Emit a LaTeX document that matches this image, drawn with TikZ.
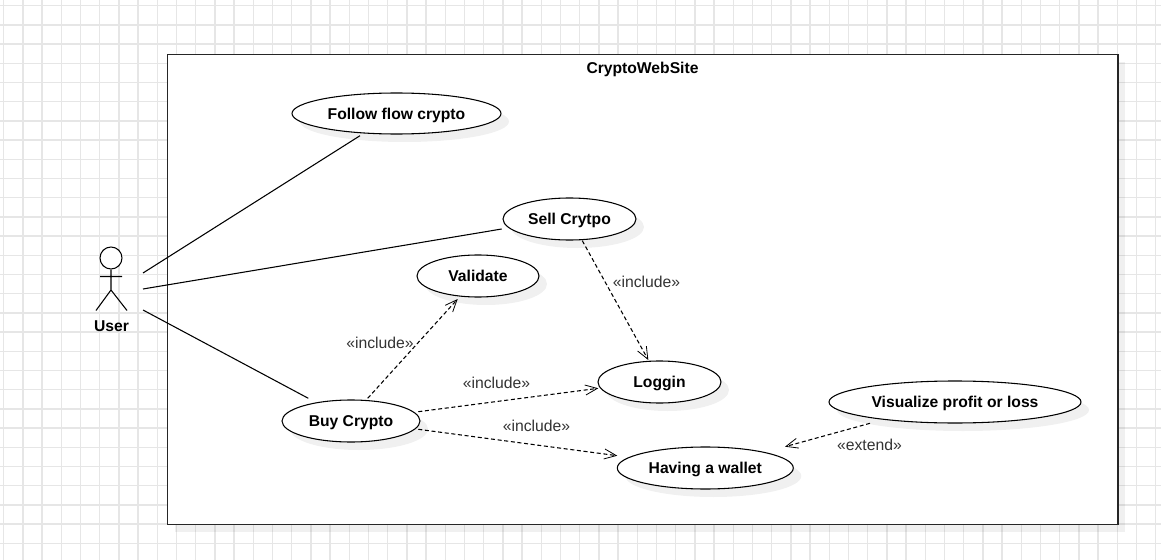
\documentclass[tikz,border=0pt]{standalone}
\usepackage{fontspec}
\setmainfont{Liberation Sans}
\usetikzlibrary{arrows.meta,shapes.geometric}
\definecolor{gridc}{HTML}{E6E6E6}
\newcommand{\uctext}[1]{\raisebox{-4.4pt}[1ex][1ex]{#1}}
\tikzset{
  x=0.75pt,y=-0.75pt,
  usecase/.style={ellipse,draw=black,fill=white,line width=0.8pt,inner sep=0pt,minimum width=#1*0.75pt,font=\fontsize{11.75}{14}\selectfont\bfseries,text=black},
  shadowed/.style={fill=black,fill opacity=0.06,draw=none},
  assoc/.style={draw=black,line width=0.8pt},
  dep/.style={draw=black,line width=0.8pt,dash pattern=on 3pt off 2pt,-{Straight Barb[length=9pt,width=7.5pt,line width=0.6pt]}},
  stereo/.style={font=\fontsize{11.8}{14}\selectfont,text=black!80,inner sep=0pt},
  boldlbl/.style={font=\fontsize{11.75}{14}\selectfont\bfseries,inner sep=0pt}
}
\begin{document}
\begin{tikzpicture}
\useasboundingbox (0,0) rectangle (1161,560);
\fill[white] (0,0) rectangle (1161,560);
% grid
\foreach \k in {0,...,60}{\draw[gridc,line width=1.05pt] ({3.7+19.2*\k},0) -- ({3.7+19.2*\k},560);}
\foreach \k in {0,...,29}{\draw[gridc,line width=1.05pt] (0,{5.7+19.2*\k}) -- (1161,{5.7+19.2*\k});}
% system
\fill[shadowed] (174.5,62) rectangle (1125,532);
\node[draw=black!85,fill=white,line width=1.1pt,inner sep=0pt,minimum width=713pt,minimum height=352.5pt,anchor=north west] (system) at (166.5,54) {};
\node[boldlbl] (title) at (642.5,69.5) {CryptoWebSite};
% shadows
\foreach \cx/\cy/\a/\b in {396.5/113.5/104.5/20.5,569.5/219/66.5/21,478/276/61/21,351/421/69/21,659.5/382/61.5/21,705.3/468/88/21,955/402/126/21}
  {\fill[shadowed] ({\cx+8},{\cy+8}) ellipse [x radius=\a,y radius=\b];}
% use cases
\node[usecase=209,minimum height=30.75pt] (follow) at (396.5,113.5) {\uctext{Follow flow crypto}};
\node[usecase=133,minimum height=31.5pt] (sell) at (569.5,219) {\uctext{Sell Crytpo}};
\node[usecase=122,minimum height=31.5pt] (validate) at (478,276) {\uctext{Validate}};
\node[usecase=138,minimum height=31.5pt] (buy) at (351,421) {\uctext{Buy Crypto}};
\node[usecase=123,minimum height=31.5pt] (loggin) at (659.5,382) {\uctext{Loggin}};
\node[usecase=176,minimum height=31.5pt] (wallet) at (705.3,468) {\uctext{Having a wallet}};
\node[usecase=252,minimum height=31.5pt] (visual) at (955,402) {\uctext{Visualize profit or loss}};
% actor
\node[circle,draw=black,fill=white,line width=0.8pt,inner sep=0pt,minimum size=16.5pt] (head) at (111,258) {};
\coordinate (hip) at (111,290);
\coordinate (armL) at (100,276.5);
\coordinate (armR) at (122,276.5);
\coordinate (legL) at (96,310.5);
\coordinate (legR) at (127,310.5);
\draw[assoc] (head.south) -- (hip) (armL) -- (armR) (legL) -- (hip) -- (legR);
\node[boldlbl] (user) at (111.5,326.5) {User};
\coordinate (actorA) at (143,273);
\coordinate (actorB) at (143,289);
\coordinate (actorC) at (143,310);
% associations
\draw[assoc] (actorA) -- ([shift={(-36.5,22.2)}]follow.center);
\draw[assoc] (actorB) -- ([shift={(-67.8,10)}]sell.center);
\draw[assoc] (actorC) -- ([shift={(-42.7,-22.7)}]buy.center);
% dependencies
\draw[dep] ([shift={(12.8,21.7)}]sell.center) -- ([shift={(-11.2,-22)}]loggin.center);
\draw[dep] ([shift={(16.7,-22.7)}]buy.center) -- ([shift={(-20.3,23)}]validate.center);
\draw[dep] ([shift={(67.3,-9.3)}]buy.center) -- ([shift={(-61.2,6.3)}]loggin.center);
\draw[dep] ([shift={(67.3,8.3)}]buy.center) -- ([shift={(-88,-12.3)}]wallet.center);
\draw[dep] ([shift={(-85,21.3)}]visual.center) -- ([shift={(79.7,-21.3)}]wallet.center);
% labels
\node[stereo] (l1) at (646.5,282) {«include»};
\node[stereo] (l2) at (380,343) {«include»};
\node[stereo] (l3) at (496.5,383) {«include»};
\node[stereo] (l4) at (536.5,426) {«include»};
\node[stereo] (l5) at (869.5,445) {«extend»};
\end{tikzpicture}
\end{document}
